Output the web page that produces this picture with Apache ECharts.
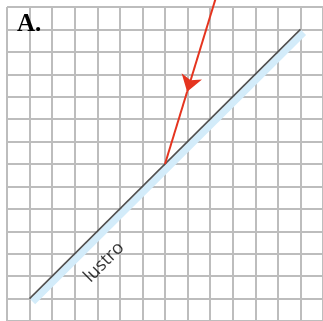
<!DOCTYPE html>
<html>
<head>
<meta charset="utf-8">
<script src="https://cdn.jsdelivr.net/npm/echarts@6/dist/echarts.min.js"></script>
<style>
html,body{margin:0;padding:0;background:#fff;}
#c{width:323px;height:321px;}
</style>
</head>
<body>
<div id="c"></div>
<script>
// Grid of squares (graph paper): 14 x 14 cells, coordinates in cell units
const gridCells = 14;
// Mirror ("lustro") endpoints
const mirrorLine = [[1, 1], [13, 13]];
// Light-blue back side of the mirror (parallel, slightly below-right)
const mirrorBack = [[1.14, 0.86], [13.14, 12.86]];
// Incoming ray: source (off the top), arrow tip, point of incidence
const raySource = [9.25, 14.4];
const arrowTip = [7.98, 10.22];
const hitPoint = [7, 7];
// Labels
const mirrorLabel = 'lustro';
const mirrorLabelPos = [4.3, 2.62];
const panelLabel = 'A.';

const chart = echarts.init(document.getElementById('c'), null, {renderer: 'canvas'});
const cell = 22.73;
chart.setOption({
  animation: false,
  backgroundColor: '#fff',
  grid: {left: 7, top: 7, width: cell * gridCells, height: cell * gridCells, z: 0},
  xAxis: {
    type: 'value', min: 0, max: gridCells, interval: 1, z: 0,
    axisLine: {show: false}, axisTick: {show: false}, axisLabel: {show: false},
    splitLine: {show: true, lineStyle: {color: '#bdbdbd', width: 2}}
  },
  yAxis: {
    type: 'value', min: 0, max: gridCells, interval: 1, z: 0,
    axisLine: {show: false}, axisTick: {show: false}, axisLabel: {show: false},
    splitLine: {show: true, lineStyle: {color: '#bdbdbd', width: 2}}
  },
  graphic: [{
    type: 'text', left: 17, top: 12, z: 20,
    style: {text: panelLabel, fontFamily: '"Liberation Serif", "DejaVu Serif", serif', fontSize: 25, fontWeight: 'bold', fill: '#000'}
  }],
  series: [
    {
      type: 'line', silent: true, z: 5, showSymbol: false, symbol: 'none',
      lineStyle: {color: '#d3ecfa', width: 7, opacity: 1, cap: 'butt'},
      data: mirrorBack
    },
    {
      type: 'line', silent: true, z: 6, showSymbol: false, symbol: 'none',
      lineStyle: {color: '#505050', width: 1.6, opacity: 1},
      data: mirrorLine
    },
    {
      type: 'lines', coordinateSystem: 'cartesian2d', silent: true, clip: false, z: 7,
      lineStyle: {color: '#e5341f', width: 2, opacity: 1},
      symbol: ['none', 'arrow'], symbolSize: [1, 16],
      data: [{coords: [raySource, arrowTip]}]
    },
    {
      type: 'lines', coordinateSystem: 'cartesian2d', silent: true, clip: false, z: 7,
      lineStyle: {color: '#e5341f', width: 2, opacity: 1},
      symbol: ['none', 'none'],
      data: [{coords: [arrowTip, hitPoint]}]
    },
    {
      type: 'scatter', silent: true, symbolSize: 0, z: 8,
      label: {
        show: true, position: 'inside', rotate: 45,
        formatter: mirrorLabel,
        fontFamily: '"Open Sans", "Noto Sans", sans-serif', fontSize: 18, color: '#000'
      },
      data: [mirrorLabelPos]
    }
  ]
});
</script>
</body>
</html>
